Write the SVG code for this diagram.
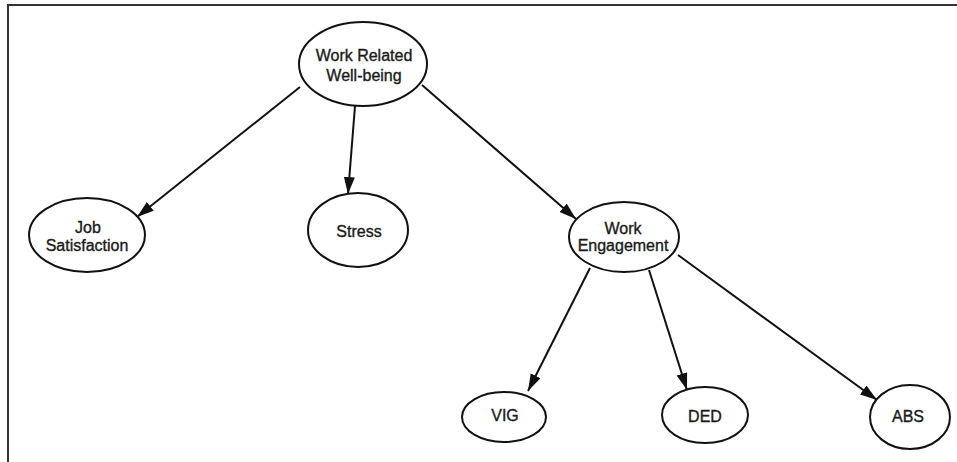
<svg xmlns="http://www.w3.org/2000/svg" width="957" height="462" viewBox="0 0 957 462">
<defs>
<style>
.n ellipse{fill:#fff;stroke:#111;stroke-width:2}
.n text{font-family:"Liberation Sans",Arial,sans-serif;font-size:16px;fill:#1a1a1a;stroke:#1a1a1a;stroke-width:0.35;text-anchor:middle}
#edges line{stroke:#111;stroke-width:2;marker-end:url(#ah)}
.frame{stroke:#333;stroke-width:2;fill:none}
</style>
<marker id="ah" markerUnits="userSpaceOnUse" markerWidth="18" markerHeight="12" refX="17" refY="5.5" orient="auto">
<path d="M0,0 L17,5.5 L0,11 z" fill="#111"/>
</marker>
</defs>
<rect width="957" height="462" fill="#fff"/>
<path class="frame" d="M8,462 L8,5 L957,5"/>
<g id="edges">
<line x1="300" y1="87" x2="137" y2="217"/>
<line x1="355" y1="106" x2="348" y2="194"/>
<line x1="422" y1="85" x2="576" y2="219"/>
<line x1="590" y1="268" x2="528" y2="391"/>
<line x1="649" y1="270" x2="687" y2="390"/>
<line x1="678" y1="255" x2="877" y2="400"/>
</g>
<g id="wrw" class="n"><ellipse cx="363" cy="64" rx="64" ry="42"/><text x="364" y="61">Work Related</text><text x="364" y="81">Well-being</text></g>
<g id="js" class="n"><ellipse cx="87" cy="235" rx="58" ry="37"/><text x="88" y="233">Job</text><text x="87" y="251">Satisfaction</text></g>
<g id="stress" class="n"><ellipse cx="358" cy="230" rx="50" ry="37"/><text x="359" y="237">Stress</text></g>
<g id="we" class="n"><ellipse cx="624" cy="237" rx="55" ry="35"/><text x="623" y="234">Work</text><text x="623" y="251">Engagement</text></g>
<g id="vig" class="n"><ellipse cx="504" cy="417" rx="42" ry="25"/><text x="505" y="421">VIG</text></g>
<g id="ded" class="n"><ellipse cx="705" cy="415" rx="43" ry="28"/><text x="705" y="422">DED</text></g>
<g id="abs" class="n"><ellipse cx="910" cy="417" rx="40" ry="32"/><text x="908" y="422">ABS</text></g>
</svg>
